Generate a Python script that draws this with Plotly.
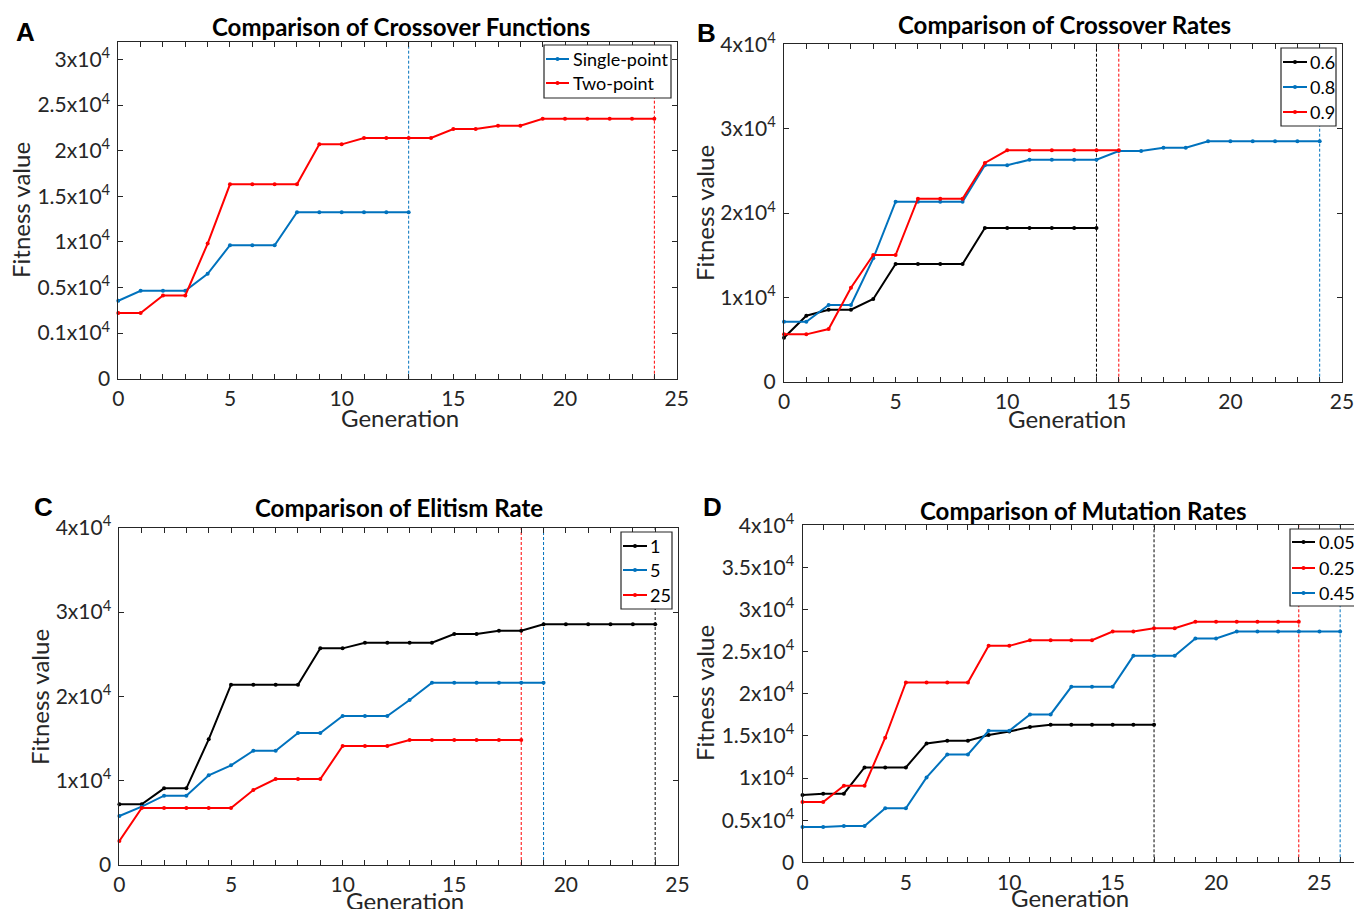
import plotly.graph_objects as go

# ---------------- data (fitness value per generation) ----------------
A_SINGLE_POINT = [8540, 9635, 9635, 9635, 11496, 14635, 14635, 14635, 18248,
                  18248, 18248, 18248, 18248, 18248]
A_TWO_POINT = [7190, 7190, 9124, 9124, 14818, 21314, 21314, 21314, 21314,
               25693, 25693, 26387, 26387, 26387, 26387, 27372, 27372, 27737,
               27737, 28504, 28504, 28504, 28504, 28504, 28504]

B_RATE_06 = [5217, 7826, 8538, 8538, 9802, 13953, 13953, 13953, 13953,
             18221, 18221, 18221, 18221, 18221, 18221]
B_RATE_08 = [7115, 7115, 9091, 9091, 14625, 21344, 21344, 21344, 21344,
             25652, 25652, 26324, 26324, 26324, 26324, 27352, 27352, 27747,
             27747, 28498, 28498, 28498, 28498, 28498, 28498]
B_RATE_09 = [5613, 5613, 6245, 11146, 15020, 15020, 21700, 21700, 21700,
             25929, 27431, 27431, 27431, 27431, 27431, 27431]

C_ELITE_1 = [7194, 7194, 9091, 9091, 14901, 21383, 21383, 21383, 21383,
             25692, 25692, 26364, 26364, 26364, 26364, 27391, 27391, 27787,
             27787, 28538, 28538, 28538, 28538, 28538, 28538]
C_ELITE_5 = [5810, 6917, 8221, 8221, 10632, 11818, 13557, 13557, 15652,
             15652, 17668, 17668, 17668, 19565, 21621, 21621, 21621, 21621,
             21621, 21621]
C_ELITE_25 = [2846, 6759, 6759, 6759, 6759, 6759, 8893, 10198, 10198, 10198,
              14111, 14111, 14111, 14822, 14822, 14822, 14822, 14822, 14822]

D_MUT_005 = [7984, 8142, 8142, 11265, 11265, 11265, 14111, 14427, 14427,
             15099, 15534, 16047, 16324, 16324, 16324, 16324, 16324, 16324]
D_MUT_025 = [7154, 7154, 9091, 9091, 14783, 21344, 21344, 21344, 21344,
             25692, 25692, 26364, 26364, 26364, 26364, 27391, 27391, 27787,
             27787, 28538, 28538, 28538, 28538, 28538, 28538]
D_MUT_045 = [4190, 4190, 4308, 4308, 6403, 6403, 10079, 12806, 12806, 15613,
             15613, 17549, 17549, 20830, 20830, 20830, 24506, 24506, 24506,
             26561, 26561, 27391, 27391, 27391, 27391, 27391, 27391]

A_NAMES = ["Single-point", "Two-point"]
B_NAMES = ["0.6", "0.8", "0.9"]
C_NAMES = ["1", "5", "25"]
D_NAMES = ["0.05", "0.25", "0.45"]

TITLES = ["Comparison of Crossover Functions", "Comparison of Crossover Rates",
          "Comparison of Elitism Rate", "Comparison of Mutation Rates"]
LETTERS = ["A", "B", "C", "D"]
X_TITLE = "Generation"
Y_TITLE = "Fitness value"

X_TICK_VALS = [0, 5, 10, 15, 20, 25]
A_YTICK_VALS = [0, 5000, 10000, 15000, 20000, 25000, 30000, 35000]
A_YTICK_TEXT = ["0", "0.1x10<sup>4</sup>", "0.5x10<sup>4</sup>", "1x10<sup>4</sup>",
                "1.5x10<sup>4</sup>", "2x10<sup>4</sup>", "2.5x10<sup>4</sup>",
                "3x10<sup>4</sup>"]
BC_YTICK_VALS = [0, 10000, 20000, 30000, 40000]
BC_YTICK_TEXT = ["0", "1x10<sup>4</sup>", "2x10<sup>4</sup>", "3x10<sup>4</sup>",
                 "4x10<sup>4</sup>"]
D_YTICK_VALS = [0, 5000, 10000, 15000, 20000, 25000, 30000, 35000, 40000]
D_YTICK_TEXT = ["0", "0.5x10<sup>4</sup>", "1x10<sup>4</sup>", "1.5x10<sup>4</sup>",
                "2x10<sup>4</sup>", "2.5x10<sup>4</sup>", "3x10<sup>4</sup>",
                "3.5x10<sup>4</sup>", "4x10<sup>4</sup>"]

# ---------------- styling ----------------
W, H = 1354, 909
FONT = "Lato, 'Open Sans', sans-serif"
AX = "#262626"
BLUE, RED, BLACK = "#0072BD", "#FF0000", "#000000"


def fx(p):
    return p / W


def fy(p):
    return 1 - p / H


panels = [
    dict(series=[(A_NAMES[0], A_SINGLE_POINT, BLUE), (A_NAMES[1], A_TWO_POINT, RED)],
         dom_x=(118.3, 676.7), dom_y=(41.7, 378.7), xmax=25, ymax=36950,
         yt=(A_YTICK_VALS, A_YTICK_TEXT), ymirror="allticks",
         legend=dict(box=(544, 671, 45, 98), line=(546, 569), text=571, rows=(59, 83)),
         title=(401, 26), letter=(25, 32), xlab=(400, 417), ylab=(20, 210)),
    dict(series=[(B_NAMES[0], B_RATE_06, BLACK), (B_NAMES[1], B_RATE_08, BLUE),
                 (B_NAMES[2], B_RATE_09, RED)],
         dom_x=(784, 1342), dom_y=(44.3, 381.7), xmax=25, ymax=40000,
         yt=(BC_YTICK_VALS, BC_YTICK_TEXT), ymirror="allticks",
         legend=dict(box=(1281, 1336, 48, 126), line=(1283, 1307), text=1308,
                     rows=(62, 87, 112)),
         title=(1064, 25), letter=(706, 33), xlab=(1067, 418), ylab=(704, 213)),
    dict(series=[(C_NAMES[0], C_ELITE_1, BLACK), (C_NAMES[1], C_ELITE_5, BLUE),
                 (C_NAMES[2], C_ELITE_25, RED)],
         dom_x=(119.4, 677.5), dom_y=(527.7, 865), xmax=25, ymax=40000,
         yt=(BC_YTICK_VALS, BC_YTICK_TEXT), ymirror="allticks",
         legend=dict(box=(621, 672, 532, 609), line=(623, 647), text=648,
                     rows=(546, 570, 595)),
         title=(399, 507), letter=(44, 507), xlab=(405, 900), ylab=(39, 697)),
    dict(series=[(D_NAMES[0], D_MUT_005, BLACK), (D_NAMES[1], D_MUT_025, RED),
                 (D_NAMES[2], D_MUT_045, BLUE)],
         dom_x=(802.5, 1354), dom_y=(525.3, 862.3), xmax=26.67, ymax=40000,
         yt=(D_YTICK_VALS, D_YTICK_TEXT), ymirror=False,
         legend=dict(box=(1290, 1362, 529, 606), line=(1292, 1315), text=1317,
                     rows=(542, 568, 593)),
         title=(1083, 510), letter=(712, 507), xlab=(1070, 897), ylab=(704, 693)),
]

fig = go.Figure()
annotations = []
shapes = []

for i, p in enumerate(panels):
    n = i + 1
    xa = "x" if n == 1 else f"x{n}"
    ya = "y" if n == 1 else f"y{n}"
    for name, vals, color in p["series"]:
        fig.add_trace(go.Scatter(
            x=list(range(len(vals))), y=vals, name=name, mode="lines+markers",
            line=dict(color=color, width=2), marker=dict(color=color, size=4),
            xaxis=xa, yaxis=ya, showlegend=False, cliponaxis=False))
        shapes.append(dict(type="line", xref=xa, yref=f"{ya} domain",
                           x0=len(vals) - 1, x1=len(vals) - 1, y0=0, y1=1,
                           line=dict(color=color, width=1, dash="3px,2px"), layer="below"))
    xmax = p["xmax"]
    axis_common = dict(showline=True, linecolor=AX, linewidth=1,
                       ticks="inside", ticklen=5, tickcolor=AX, tickwidth=1,
                       showgrid=False, zeroline=False,
                       tickfont=dict(family=FONT, size=21, color=AX))
    fig.update_layout(**{
        ("xaxis" if n == 1 else f"xaxis{n}"): dict(
            axis_common, mirror="allticks",
            domain=[fx(p["dom_x"][0]), fx(p["dom_x"][1])],
            range=[0, xmax], anchor=ya, tickmode="array", tickvals=X_TICK_VALS,
            minor=dict(tick0=0, dtick=1, ticks="inside", ticklen=5, tickcolor=AX,
                       showgrid=False),
            ticklabelstandoff=1, ticklabeloverflow="allow"),
        ("yaxis" if n == 1 else f"yaxis{n}"): dict(
            axis_common, mirror=p["ymirror"],
            domain=[fy(p["dom_y"][1]), fy(p["dom_y"][0])],
            range=[0, p["ymax"]], anchor=xa, tickmode="array",
            tickvals=p["yt"][0], ticktext=p["yt"][1], ticklabelstandoff=3,
            ticklabeloverflow="allow"),
    })

    # legend box drawn in page coordinates
    lg = p["legend"]
    bx0, bx1, by0, by1 = lg["box"]
    shapes.append(dict(type="rect", xref="paper", yref="paper",
                       x0=fx(bx0), x1=fx(bx1), y0=fy(by1), y1=fy(by0),
                       fillcolor="white", line=dict(color=AX, width=1.2), layer="above"))
    for (name, vals, color), ry in zip(p["series"], lg["rows"]):
        shapes.append(dict(type="line", xref="paper", yref="paper",
                           x0=fx(lg["line"][0]), x1=fx(lg["line"][1]), y0=fy(ry), y1=fy(ry),
                           line=dict(color=color, width=2), layer="above"))
        cx = (lg["line"][0] + lg["line"][1]) / 2
        shapes.append(dict(type="circle", xref="paper", yref="paper",
                           x0=fx(cx - 2), x1=fx(cx + 2), y0=fy(ry + 2), y1=fy(ry - 2),
                           fillcolor=color, line=dict(color=color, width=0), layer="above"))
        annotations.append(dict(text=name, x=fx(lg["text"]), y=fy(ry), xref="paper",
                                yref="paper", showarrow=False, xanchor="left",
                                yanchor="middle",
                                font=dict(family=FONT, size=18, color="#000000")))

    annotations += [
        dict(text=f"<b>{TITLES[i]}</b>", x=fx(p["title"][0]), y=fy(p["title"][1]),
             xref="paper", yref="paper", showarrow=False, xanchor="center", yanchor="middle",
             font=dict(family=FONT, size=24, color="#000000")),
        dict(text=f"<b>{LETTERS[i]}</b>", x=fx(p["letter"][0]), y=fy(p["letter"][1]),
             xref="paper", yref="paper", showarrow=False, xanchor="center", yanchor="middle",
             font=dict(family="Liberation Sans, Arial, sans-serif", size=26, color="#000000")),
        dict(text=X_TITLE, x=fx(p["xlab"][0]), y=fy(p["xlab"][1]),
             xref="paper", yref="paper", showarrow=False, xanchor="center", yanchor="middle",
             font=dict(family=FONT, size=24, color=AX)),
        dict(text=Y_TITLE, x=fx(p["ylab"][0]), y=fy(p["ylab"][1]), textangle=-90,
             xref="paper", yref="paper", showarrow=False, xanchor="center", yanchor="middle",
             font=dict(family=FONT, size=24, color=AX)),
    ]

fig.update_layout(width=W, height=H, paper_bgcolor="white", plot_bgcolor="white",
                  margin=dict(l=0, r=0, t=0, b=0, autoexpand=False),
                  showlegend=False, annotations=annotations, shapes=shapes)

fig.write_html("out.html", config={"displayModeBar": False},
               post_script="document.body.style.margin='0';"
                           "document.body.style.overflow='hidden';")
